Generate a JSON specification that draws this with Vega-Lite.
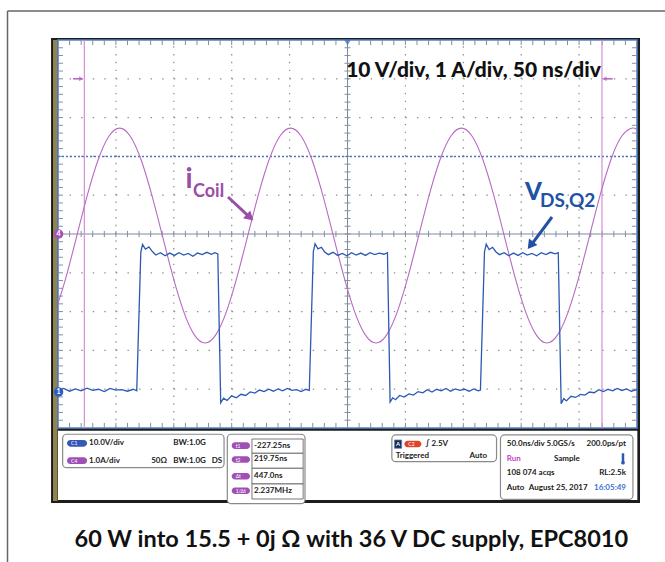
{
"$schema": "https://vega.github.io/schema/vega-lite/v6.json",
"width": 665, "height": 562, "padding": 0, "autosize": {"type": "none"},
"background": "white",
"config": {"view": {"stroke": null}, "axis": {"labels": false, "ticks": false, "domain": false, "grid": false, "title": null}},
"datasets": {
"cur": [{"t":-250,"i":-1.79},{"t":-242.93,"i":-1.1},{"t":-233.7,"i":-0.04},{"t":-224.48,"i":1.02},{"t":-215.25,"i":1.92},{"t":-206.03,"i":2.52},{"t":-196.8,"i":2.73},{"t":-187.58,"i":2.52},{"t":-178.35,"i":1.92},{"t":-169.13,"i":1.02},{"t":-159.9,"i":-0.04},{"t":-150.68,"i":-1.1},{"t":-141.45,"i":-2.0},{"t":-132.23,"i":-2.6},{"t":-123.0,"i":-2.81},{"t":-113.78,"i":-2.6},{"t":-104.55,"i":-2.0},{"t":-95.33,"i":-1.1},{"t":-86.1,"i":-0.04},{"t":-76.88,"i":1.02},{"t":-67.65,"i":1.92},{"t":-58.43,"i":2.52},{"t":-49.2,"i":2.73},{"t":-39.98,"i":2.52},{"t":-30.75,"i":1.92},{"t":-21.53,"i":1.02},{"t":-12.3,"i":-0.04},{"t":-3.08,"i":-1.1},{"t":6.15,"i":-2.0},{"t":15.38,"i":-2.6},{"t":24.6,"i":-2.81},{"t":33.83,"i":-2.6},{"t":43.05,"i":-2.0},{"t":52.28,"i":-1.1},{"t":61.5,"i":-0.04},{"t":70.73,"i":1.02},{"t":79.95,"i":1.92},{"t":89.18,"i":2.52},{"t":98.4,"i":2.73},{"t":107.63,"i":2.52},{"t":116.85,"i":1.92},{"t":126.08,"i":1.02},{"t":135.3,"i":-0.04},{"t":144.53,"i":-1.1},{"t":153.75,"i":-2.0},{"t":162.98,"i":-2.6},{"t":172.2,"i":-2.81},{"t":181.43,"i":-2.6},{"t":190.65,"i":-2.0},{"t":199.88,"i":-1.1},{"t":209.1,"i":-0.04},{"t":218.33,"i":1.02},{"t":227.55,"i":1.92},{"t":236.78,"i":2.52},{"t":246.0,"i":2.73},{"t":250,"i":2.69}],
"vds": [{"t":-250,"v":0.5},{"t":-245,"v":0.9},{"t":-240,"v":0.2},{"t":-235,"v":0.8},{"t":-230,"v":0.3},{"t":-225,"v":1.0},{"t":-220,"v":0.4},{"t":-215,"v":0.7},{"t":-210,"v":0.1},{"t":-205,"v":0.9},{"t":-200,"v":0.5},{"t":-195,"v":0.6},{"t":-190,"v":0.2},{"t":-185,"v":0.7},{"t":-182,"v":0.3},
{"t":-178.5,"v":36.0},{"t":-177,"v":38.0},{"t":-174.5,"v":36.8},{"t":-171.5,"v":37.4},{"t":-168.5,"v":36.2},{"t":-165.5,"v":35.3},{"t":-161.5,"v":35.9},{"t":-157.5,"v":35.1},{"t":-153.5,"v":35.8},{"t":-149.5,"v":35.2},{"t":-145.5,"v":35.9},{"t":-141.5,"v":35.3},{"t":-137.5,"v":35.7},{"t":-133.5,"v":35.0},{"t":-129.5,"v":35.8},{"t":-125.5,"v":35.4},{"t":-121.5,"v":36.0},{"t":-117.5,"v":35.5},{"t":-114.5,"v":35.9},{"t":-112,"v":35.6},
{"t":-109.5,"v":-2.8},{"t":-107,"v":-1.6},{"t":-104,"v":-2.2},{"t":-100,"v":-1.0},{"t":-96,"v":-1.5},{"t":-92,"v":-0.6},{"t":-88,"v":-0.9},{"t":-84,"v":0.0},{"t":-80,"v":-0.3},{"t":-76,"v":0.5},{"t":-72,"v":0.1},{"t":-68,"v":0.7},{"t":-64,"v":0.2},{"t":-60,"v":0.8},{"t":-56,"v":0.3},{"t":-52,"v":0.9},{"t":-48,"v":0.4},{"t":-44,"v":0.6},{"t":-40,"v":0.1},{"t":-36,"v":0.7},{"t":-33,"v":0.4},
{"t":-29.5,"v":36.2},{"t":-28,"v":38.2},{"t":-25.5,"v":36.9},{"t":-22.5,"v":37.3},{"t":-19.5,"v":36.0},{"t":-16.5,"v":35.4},{"t":-12.5,"v":36.0},{"t":-8.5,"v":35.2},{"t":-4.5,"v":35.7},{"t":-0.5,"v":35.1},{"t":3.5,"v":35.9},{"t":7.5,"v":35.3},{"t":11.5,"v":35.8},{"t":15.5,"v":35.2},{"t":19.5,"v":35.9},{"t":23.5,"v":35.4},{"t":27.5,"v":35.8},{"t":31.5,"v":35.5},{"t":34.5,"v":35.9},
{"t":36.8,"v":-2.6},{"t":39,"v":-1.5},{"t":41.5,"v":-2.0},{"t":45,"v":-0.9},{"t":49,"v":-1.3},{"t":53,"v":-0.5},{"t":57,"v":-0.8},{"t":61,"v":0.1},{"t":65,"v":-0.2},{"t":69,"v":0.6},{"t":73,"v":0.0},{"t":77,"v":0.7},{"t":81,"v":0.3},{"t":85,"v":0.9},{"t":89,"v":0.2},{"t":93,"v":0.8},{"t":97,"v":0.4},{"t":101,"v":0.7},{"t":105,"v":0.2},{"t":109,"v":0.8},{"t":113,"v":0.3},{"t":114.8,"v":0.5},
{"t":118.3,"v":36.1},{"t":119.8,"v":38.1},{"t":122.3,"v":36.7},{"t":125.3,"v":37.3},{"t":128.3,"v":36.1},{"t":131.3,"v":35.4},{"t":135.3,"v":35.9},{"t":139.3,"v":35.1},{"t":143.3,"v":35.8},{"t":147.3,"v":35.2},{"t":151.3,"v":35.9},{"t":155.3,"v":35.3},{"t":159.3,"v":35.7},{"t":163.3,"v":35.1},{"t":167.3,"v":35.9},{"t":171.3,"v":35.4},{"t":175.3,"v":36.0},{"t":179.3,"v":35.6},{"t":182,"v":35.9},
{"t":184.5,"v":-3.0},{"t":186.8,"v":-1.7},{"t":189,"v":-2.3},{"t":193,"v":-1.1},{"t":197,"v":-1.4},{"t":201,"v":-0.6},{"t":205,"v":-0.8},{"t":209,"v":0.0},{"t":213,"v":-0.2},{"t":217,"v":0.6},{"t":221,"v":0.1},{"t":225,"v":0.7},{"t":229,"v":0.3},{"t":233,"v":0.9},{"t":237,"v":0.4},{"t":241,"v":0.8},{"t":245,"v":0.2},{"t":250,"v":0.6}],
"xt": [{"t":-240},{"t":-230},{"t":-220},{"t":-210},{"t":-200},{"t":-190},{"t":-180},{"t":-170},{"t":-160},{"t":-150},{"t":-140},{"t":-130},{"t":-120},{"t":-110},{"t":-100},{"t":-90},{"t":-80},{"t":-70},{"t":-60},{"t":-50},{"t":-40},{"t":-30},{"t":-20},{"t":-10},{"t":0},{"t":10},{"t":20},{"t":30},{"t":40},{"t":50},{"t":60},{"t":70},{"t":80},{"t":90},{"t":100},{"t":110},{"t":120},{"t":130},{"t":140},{"t":150},{"t":160},{"t":170},{"t":180},{"t":190},{"t":200},{"t":210},{"t":220},{"t":230},{"t":240}],
"yt": [{"d":-4.8},{"d":-4.6},{"d":-4.4},{"d":-4.2},{"d":-4.0},{"d":-3.8},{"d":-3.6},{"d":-3.4},{"d":-3.2},{"d":-3.0},{"d":-2.8},{"d":-2.6},{"d":-2.4},{"d":-2.2},{"d":-2.0},{"d":-1.8},{"d":-1.6},{"d":-1.4},{"d":-1.2},{"d":-1.0},{"d":-0.8},{"d":-0.6},{"d":-0.4},{"d":-0.2},{"d":0},{"d":0.2},{"d":0.4},{"d":0.6},{"d":0.8},{"d":1.0},{"d":1.2},{"d":1.4},{"d":1.6},{"d":1.8},{"d":2.0},{"d":2.2},{"d":2.4},{"d":2.6},{"d":2.8},{"d":3.0},{"d":3.2},{"d":3.4},{"d":3.6},{"d":3.8},{"d":4.0},{"d":4.2},{"d":4.4},{"d":4.6},{"d":4.8}],
"vgrid": [{"t":-200},{"t":-150},{"t":-100},{"t":-50},{"t":50},{"t":100},{"t":150},{"t":200}],
"hgrid": [{"d":-4},{"d":-3},{"d":-2},{"d":-1},{"d":1},{"d":2},{"d":3},{"d":4}],
"cursors": [{"t":-227.25},{"t":219.75}],
"pills": [{"t1":-242.2,"t2":-224.9,"d1":-5.309,"d2":-5.482,"ch":"C1"},{"t1":-242.2,"t2":-224.9,"d1":-5.755,"d2":-5.928,"ch":"C4"},{"t1":-100,"t2":-84.2,"d1":-5.37,"d2":-5.54,"ch":"t1"},{"t1":-100,"t2":-84.2,"d1":-5.727,"d2":-5.897,"ch":"t2"},{"t1":-100,"t2":-84.2,"d1":-6.16,"d2":-6.33,"ch":"Δt"},{"t1":-100,"t2":-84.2,"d1":-6.531,"d2":-6.701,"ch":"1/Δt"},{"t1":49.1,"t2":63.8,"d1":-5.327,"d2":-5.497,"ch":"C2"}],
"cellboxes": [{"t1":-82.5,"t2":-38.3,"d1":-5.284,"d2":-5.652},{"t1":-82.5,"t2":-38.3,"d1":-5.652,"d2":-6.039},{"t1":-82.5,"t2":-38.3,"d1":-6.039,"d2":-6.443},{"t1":-82.5,"t2":-38.3,"d1":-6.443,"d2":-6.83}],
"boxes": [{"t1":-246,"t2":-106.6,"d1":-5.162,"d2":-6.023},{"t1":-103.8,"t2":-36.7,"d1":-5.162,"d2":-6.95},{"t1":38.3,"t2":128.7,"d1":-5.18,"d2":-5.869},{"t1":132.1,"t2":246.5,"d1":-5.18,"d2":-6.84}],
"panelLeft": [{"t":-223.2,"d":-5.394,"s":"10.0V/div"},{"t":-150.4,"d":-5.394,"s":"BW:1.0G"},{"t":-223.2,"d":-5.838,"s":"1.0A/div"},{"t":-169.5,"d":-5.838,"s":"50Ω"},{"t":-150.4,"d":-5.838,"s":"BW:1.0G"},{"t":-117.3,"d":-5.838,"s":"DS"},{"t":-80.7,"d":-5.456,"s":"-227.25ns"},{"t":-80.7,"d":-5.812,"s":"219.75ns"},{"t":-80.7,"d":-6.245,"s":"447.0ns"},{"t":-80.7,"d":-6.616,"s":"2.237MHz"},{"t":67.3,"d":-5.412,"s":"∫ 2.5V"},{"t":41.6,"d":-5.722,"s":"Triggered"},{"t":137.6,"d":-5.412,"s":"50.0ns/div 5.0GS/s"},{"t":178.3,"d":-5.799,"s":"Sample"},{"t":137.6,"d":-6.168,"s":"108 074 acqs"},{"t":137.6,"d":-6.554,"s":"Auto"},{"t":156.6,"d":-6.554,"s":"August 25, 2017"}],
"panelRight": [{"t":120.5,"d":-5.722,"s":"Auto"},{"t":240.5,"d":-5.412,"s":"200.0ps/pt"},{"t":240.5,"d":-6.168,"s":"RL:2.5k"}]
},
"layer": [
{"layer": [
 {"data":{"values":[{}]},"mark":{"type":"rule","color":"#666666","strokeWidth":1.5},
  "encoding":{"x":{"datum":-293.6,"type":"quantitative","scale":{"domain":[-300.09,274.18],"nice":false,"zero":false}},"x2":{"datum":274.18},
   "y":{"datum":5.747,"type":"quantitative","scale":{"domain":[-8.454,6.031],"nice":false,"zero":false}}}},
 {"data":{"values":[{}]},"mark":{"type":"rule","color":"#666666","strokeWidth":1.5},
  "encoding":{"x":{"datum":-293.6,"type":"quantitative"},"y":{"datum":5.747,"type":"quantitative"},"y2":{"datum":-8.454}}},
 {"data":{"values":[{}]},"mark":{"type":"rect","color":"#1c1c1c"},
  "encoding":{"x":{"datum":-256.0,"type":"quantitative"},"x2":{"datum":252.6},"y":{"datum":5.052,"type":"quantitative"},"y2":{"datum":-6.933}}},
 {"data":{"values":[{}]},"mark":{"type":"rect","color":"#918451"},
  "encoding":{"x":{"datum":-254.3,"type":"quantitative"},"x2":{"datum":-250.4},"y":{"datum":5.0,"type":"quantitative"},"y2":{"datum":-6.88}}},
 {"data":{"values":[{}]},"mark":{"type":"rect","fill":"white"},
  "encoding":{"x":{"datum":-250,"type":"quantitative"},"x2":{"datum":250.3},"y":{"datum":-5.07,"type":"quantitative"},"y2":{"datum":-6.856}}},
 {"data":{"values":[{}]},"mark":{"type":"rect","fill":"white","stroke":"#5583c6","strokeWidth":1.6},
  "encoding":{"x":{"datum":-250,"type":"quantitative"},"x2":{"datum":250},"y":{"datum":5,"type":"quantitative"},"y2":{"datum":-5}}},
 {"data":{"name":"vgrid"},"mark":{"type":"rule","color":"#8c8c8c","strokeWidth":1.2,"strokeDash":[1.4,6.36]},
  "encoding":{"x":{"field":"t","type":"quantitative"},"y":{"datum":-5,"type":"quantitative"},"y2":{"datum":5}}},
 {"data":{"name":"hgrid"},"mark":{"type":"rule","color":"#8c8c8c","strokeWidth":1.2,"strokeDash":[1.4,10.18]},
  "encoding":{"x":{"datum":-250,"type":"quantitative"},"x2":{"datum":250},"y":{"field":"d","type":"quantitative"}}},
 {"data":{"values":[{}]},"mark":{"type":"rule","color":"#7d8a9c","strokeWidth":1},
  "encoding":{"x":{"datum":0,"type":"quantitative"},"y":{"datum":-5,"type":"quantitative"},"y2":{"datum":5}}},
 {"data":{"values":[{}]},"mark":{"type":"rule","color":"#7d8a9c","strokeWidth":1},
  "encoding":{"x":{"datum":-250,"type":"quantitative"},"x2":{"datum":250},"y":{"datum":0,"type":"quantitative"}}},
 {"data":{"name":"xt"},"mark":{"type":"rule","color":"#8190a4","strokeWidth":1},
  "encoding":{"x":{"field":"t","type":"quantitative"},"y":{"datum":-0.08,"type":"quantitative"},"y2":{"datum":0.08}}},
 {"data":{"name":"xt"},"mark":{"type":"rule","color":"#8190a4","strokeWidth":1},
  "encoding":{"x":{"field":"t","type":"quantitative"},"y":{"datum":5,"type":"quantitative"},"y2":{"datum":4.87}}},
 {"data":{"name":"xt"},"mark":{"type":"rule","color":"#8190a4","strokeWidth":1},
  "encoding":{"x":{"field":"t","type":"quantitative"},"y":{"datum":-5,"type":"quantitative"},"y2":{"datum":-4.87}}},
 {"data":{"name":"yt"},"mark":{"type":"rule","color":"#8190a4","strokeWidth":1},
  "encoding":{"x":{"datum":-2.6,"type":"quantitative"},"x2":{"datum":2.6},"y":{"field":"d","type":"quantitative"}}},
 {"data":{"name":"yt"},"mark":{"type":"rule","color":"#8190a4","strokeWidth":1},
  "encoding":{"x":{"datum":-250,"type":"quantitative"},"x2":{"datum":-245.7},"y":{"field":"d","type":"quantitative"}}},
 {"data":{"name":"yt"},"mark":{"type":"rule","color":"#8190a4","strokeWidth":1},
  "encoding":{"x":{"datum":245.7,"type":"quantitative"},"x2":{"datum":250},"y":{"field":"d","type":"quantitative"}}},
 {"data":{"values":[{}]},"mark":{"type":"rule","color":"#4a78c8","strokeWidth":1.5,"strokeDash":[2,2]},
  "encoding":{"x":{"datum":-250,"type":"quantitative"},"x2":{"datum":250},"y":{"datum":2,"type":"quantitative"}}},
 {"data":{"name":"cursors"},"mark":{"type":"rule","color":"#d58fd5","strokeWidth":1.2},
  "encoding":{"x":{"field":"t","type":"quantitative"},"y":{"datum":-5,"type":"quantitative"},"y2":{"datum":5}}},
 {"data":{"name":"cur"},"mark":{"type":"line","color":"#b86ac4","strokeWidth":1.1,"interpolate":"natural"},
  "encoding":{"x":{"field":"t","type":"quantitative"},"y":{"field":"i","type":"quantitative"}}}
]},
{"data":{"name":"vds"},"mark":{"type":"line","color":"#2b59b3","strokeWidth":1.3},
 "encoding":{"x":{"field":"t","type":"quantitative"},
  "y":{"field":"v","type":"quantitative","scale":{"domain":[-43.82,101.03],"nice":false,"zero":false}}}},
{"layer": [
 {"data":{"values":[{}]},"mark":{"type":"rule","color":"#b563c2","strokeWidth":1.5},
  "encoding":{"x":{"datum":-237,"type":"quantitative"},"x2":{"datum":-229},"y":{"datum":4,"type":"quantitative","scale":{"domain":[-8.454,6.031],"nice":false,"zero":false}}}},
 {"data":{"values":[{}]},"mark":{"type":"point","shape":"triangle-right","filled":true,"color":"#b563c2","size":25},
  "encoding":{"x":{"datum":-230,"type":"quantitative"},"y":{"datum":4,"type":"quantitative"}}},
 {"data":{"values":[{}]},"mark":{"type":"rule","color":"#b563c2","strokeWidth":1.5},
  "encoding":{"x":{"datum":221.5,"type":"quantitative"},"x2":{"datum":229},"y":{"datum":4,"type":"quantitative"}}},
 {"data":{"values":[{}]},"mark":{"type":"point","shape":"triangle-left","filled":true,"color":"#b563c2","size":25},
  "encoding":{"x":{"datum":222,"type":"quantitative"},"y":{"datum":4,"type":"quantitative"}}},
 {"data":{"values":[{}]},"mark":{"type":"point","shape":"triangle-down","filled":true,"color":"#3a6fc0","size":45},
  "encoding":{"x":{"datum":0,"type":"quantitative"},"y":{"datum":4.93,"type":"quantitative"}}},
 {"data":{"values":[{}]},"mark":{"type":"point","shape":"circle","filled":true,"color":"#a652b5","size":90,"opacity":1},
  "encoding":{"x":{"datum":-249.5,"type":"quantitative"},"y":{"datum":0,"type":"quantitative"}}},
 {"data":{"values":[{}]},"mark":{"type":"text","text":"4","color":"white","font":"Lato","fontSize":7,"fontWeight":"bold","baseline":"middle"},
  "encoding":{"x":{"datum":-249.5,"type":"quantitative"},"y":{"datum":0,"type":"quantitative"}}},
 {"data":{"values":[{}]},"mark":{"type":"point","shape":"circle","filled":true,"color":"#2d5fc0","size":90,"opacity":1},
  "encoding":{"x":{"datum":-249.5,"type":"quantitative"},"y":{"datum":-4.072,"type":"quantitative"}}},
 {"data":{"values":[{}]},"mark":{"type":"text","text":"1","color":"white","font":"Lato","fontSize":7,"fontWeight":"bold","baseline":"middle"},
  "encoding":{"x":{"datum":-249.5,"type":"quantitative"},"y":{"datum":-4.072,"type":"quantitative"}}},
 {"data":{"values":[{}]},"mark":{"type":"text","text":"10 V/div, 1 A/div, 50 ns/div","color":"#111111","font":"Lato","fontSize":21,"fontWeight":900,"align":"center","baseline":"alphabetic"},
  "encoding":{"x":{"datum":108.8,"type":"quantitative"},"y":{"datum":4.034,"type":"quantitative"}}},
 {"data":{"values":[{}]},"mark":{"type":"text","text":"i","color":"#9b4ea8","font":"Lato","fontSize":28,"fontWeight":"bold","align":"left","baseline":"alphabetic"},
  "encoding":{"x":{"datum":-139.9,"type":"quantitative"},"y":{"datum":1.186,"type":"quantitative"}}},
 {"data":{"values":[{}]},"mark":{"type":"text","text":"Coil","color":"#9b4ea8","font":"Lato","fontSize":18,"fontWeight":"bold","align":"left","baseline":"alphabetic"},
  "encoding":{"x":{"datum":-133.4,"type":"quantitative"},"y":{"datum":0.961,"type":"quantitative"}}},
 {"data":{"values":[{}]},"mark":{"type":"rule","color":"#9b4ea8","strokeWidth":3},
  "encoding":{"x":{"datum":-103.2,"type":"quantitative"},"x2":{"datum":-85},"y":{"datum":0.954,"type":"quantitative"},"y2":{"datum":0.45}}},
 {"data":{"values":[{}]},"mark":{"type":"point","shape":"triangle-up","filled":true,"color":"#9b4ea8","size":110,"angle":133,"opacity":1},
  "encoding":{"x":{"datum":-84.2,"type":"quantitative"},"y":{"datum":0.425,"type":"quantitative"}}},
 {"data":{"values":[{}]},"mark":{"type":"text","text":"V","color":"#2252a3","font":"Lato","fontSize":24,"fontWeight":900,"align":"left","baseline":"alphabetic"},
  "encoding":{"x":{"datum":153.3,"type":"quantitative"},"y":{"datum":0.876,"type":"quantitative"}}},
 {"data":{"values":[{}]},"mark":{"type":"text","text":"DS,Q2","color":"#2252a3","font":"Lato","fontSize":19,"fontWeight":"bold","align":"left","baseline":"alphabetic"},
  "encoding":{"x":{"datum":166.2,"type":"quantitative"},"y":{"datum":0.704,"type":"quantitative"}}},
 {"data":{"values":[{}]},"mark":{"type":"rule","color":"#2252a3","strokeWidth":3},
  "encoding":{"x":{"datum":176.6,"type":"quantitative"},"x2":{"datum":159},"y":{"datum":0.438,"type":"quantitative"},"y2":{"datum":-0.27}}},
 {"data":{"values":[{}]},"mark":{"type":"point","shape":"triangle-up","filled":true,"color":"#2252a3","size":110,"angle":217,"opacity":1},
  "encoding":{"x":{"datum":158.0,"type":"quantitative"},"y":{"datum":-0.294,"type":"quantitative"}}},
 {"data":{"values":[{}]},"mark":{"type":"text","text":"60 W into 15.5 + 0j Ω with 36 V DC supply, EPC8010","color":"#111111","font":"Lato","fontSize":23.5,"fontWeight":"bold","align":"center","baseline":"alphabetic"},
  "encoding":{"x":{"datum":3.3,"type":"quantitative"},"y":{"datum":-8.059,"type":"quantitative"}}},
 {"data":{"name":"boxes"},"mark":{"type":"rect","fill":"white","stroke":"#8a8a8a","strokeWidth":1.2,"cornerRadius":4},
  "encoding":{"x":{"field":"t1","type":"quantitative"},"x2":{"field":"t2"},"y":{"field":"d1","type":"quantitative"},"y2":{"field":"d2"}}},
 {"data":{"name":"cellboxes"},"mark":{"type":"rect","fill":"white","stroke":"#555555","strokeWidth":0.8},
  "encoding":{"x":{"field":"t1","type":"quantitative"},"x2":{"field":"t2"},"y":{"field":"d1","type":"quantitative"},"y2":{"field":"d2"}}},
 {"data":{"name":"pills"},"mark":{"type":"rect","cornerRadius":4},
  "encoding":{"x":{"field":"t1","type":"quantitative"},"x2":{"field":"t2"},"y":{"field":"d1","type":"quantitative"},"y2":{"field":"d2"},
   "color":{"field":"ch","type":"nominal","legend":null,"scale":{"domain":["C1","C4","t1","t2","Δt","1/Δt","C2"],"range":["#3557b8","#a04fb4","#a04fb4","#a04fb4","#a04fb4","#a04fb4","#e0432c"]}}}},
 {"data":{"name":"pills"},
  "mark":{"type":"text","color":"white","font":"Lato","fontSize":5,"baseline":"top","align":"left","dx":4,"dy":1.5},
  "encoding":{"x":{"field":"t1","type":"quantitative"},"y":{"field":"d1","type":"quantitative"},"text":{"field":"ch"}}},
 {"data":{"values":[{}]},"mark":{"type":"rect","fill":"#1b2a48","stroke":"#5a86d0","strokeWidth":0.8},
  "encoding":{"x":{"datum":40.6,"type":"quantitative"},"x2":{"datum":46.8},"y":{"datum":-5.309,"type":"quantitative"},"y2":{"datum":-5.523}}},
 {"data":{"values":[{}]},"mark":{"type":"text","text":"A","color":"white","font":"Lato","fontSize":6,"fontWeight":"bold","baseline":"middle","align":"center"},
  "encoding":{"x":{"datum":43.7,"type":"quantitative"},"y":{"datum":-5.416,"type":"quantitative"}}},
 {"data":{"name":"panelLeft"},"mark":{"type":"text","color":"#222222","font":"Lato","fontSize":8,"fontWeight":"bold","align":"left","baseline":"middle"},
  "encoding":{"x":{"field":"t","type":"quantitative"},"y":{"field":"d","type":"quantitative"},"text":{"field":"s"}}},
 {"data":{"name":"panelRight"},"mark":{"type":"text","color":"#222222","font":"Lato","fontSize":8,"fontWeight":"bold","align":"right","baseline":"middle"},
  "encoding":{"x":{"field":"t","type":"quantitative"},"y":{"field":"d","type":"quantitative"},"text":{"field":"s"}}},
 {"data":{"values":[{}]},"mark":{"type":"text","text":"Run","color":"#c444c4","font":"Lato","fontSize":8,"fontWeight":"bold","align":"left","baseline":"middle"},
  "encoding":{"x":{"datum":137.6,"type":"quantitative"},"y":{"datum":-5.799,"type":"quantitative"}}},
 {"data":{"values":[{}]},"mark":{"type":"text","text":"16:05:49","color":"#3a72d2","font":"Lato","fontSize":8,"fontWeight":"bold","align":"right","baseline":"middle"},
  "encoding":{"x":{"datum":240.5,"type":"quantitative"},"y":{"datum":-6.554,"type":"quantitative"}}},
 {"data":{"values":[{}]},"mark":{"type":"rule","color":"#2a5ab0","strokeWidth":2.5},
  "encoding":{"x":{"datum":237.9,"type":"quantitative"},"y":{"datum":-5.652,"type":"quantitative"},"y2":{"datum":-5.87}}},
 {"data":{"values":[{}]},"mark":{"type":"point","shape":"circle","filled":true,"color":"#2a5ab0","size":14,"opacity":1},
  "encoding":{"x":{"datum":237.9,"type":"quantitative"},"y":{"datum":-5.894,"type":"quantitative"}}}
]}
],
"resolve": {"scale": {"y": "independent"}}
}
